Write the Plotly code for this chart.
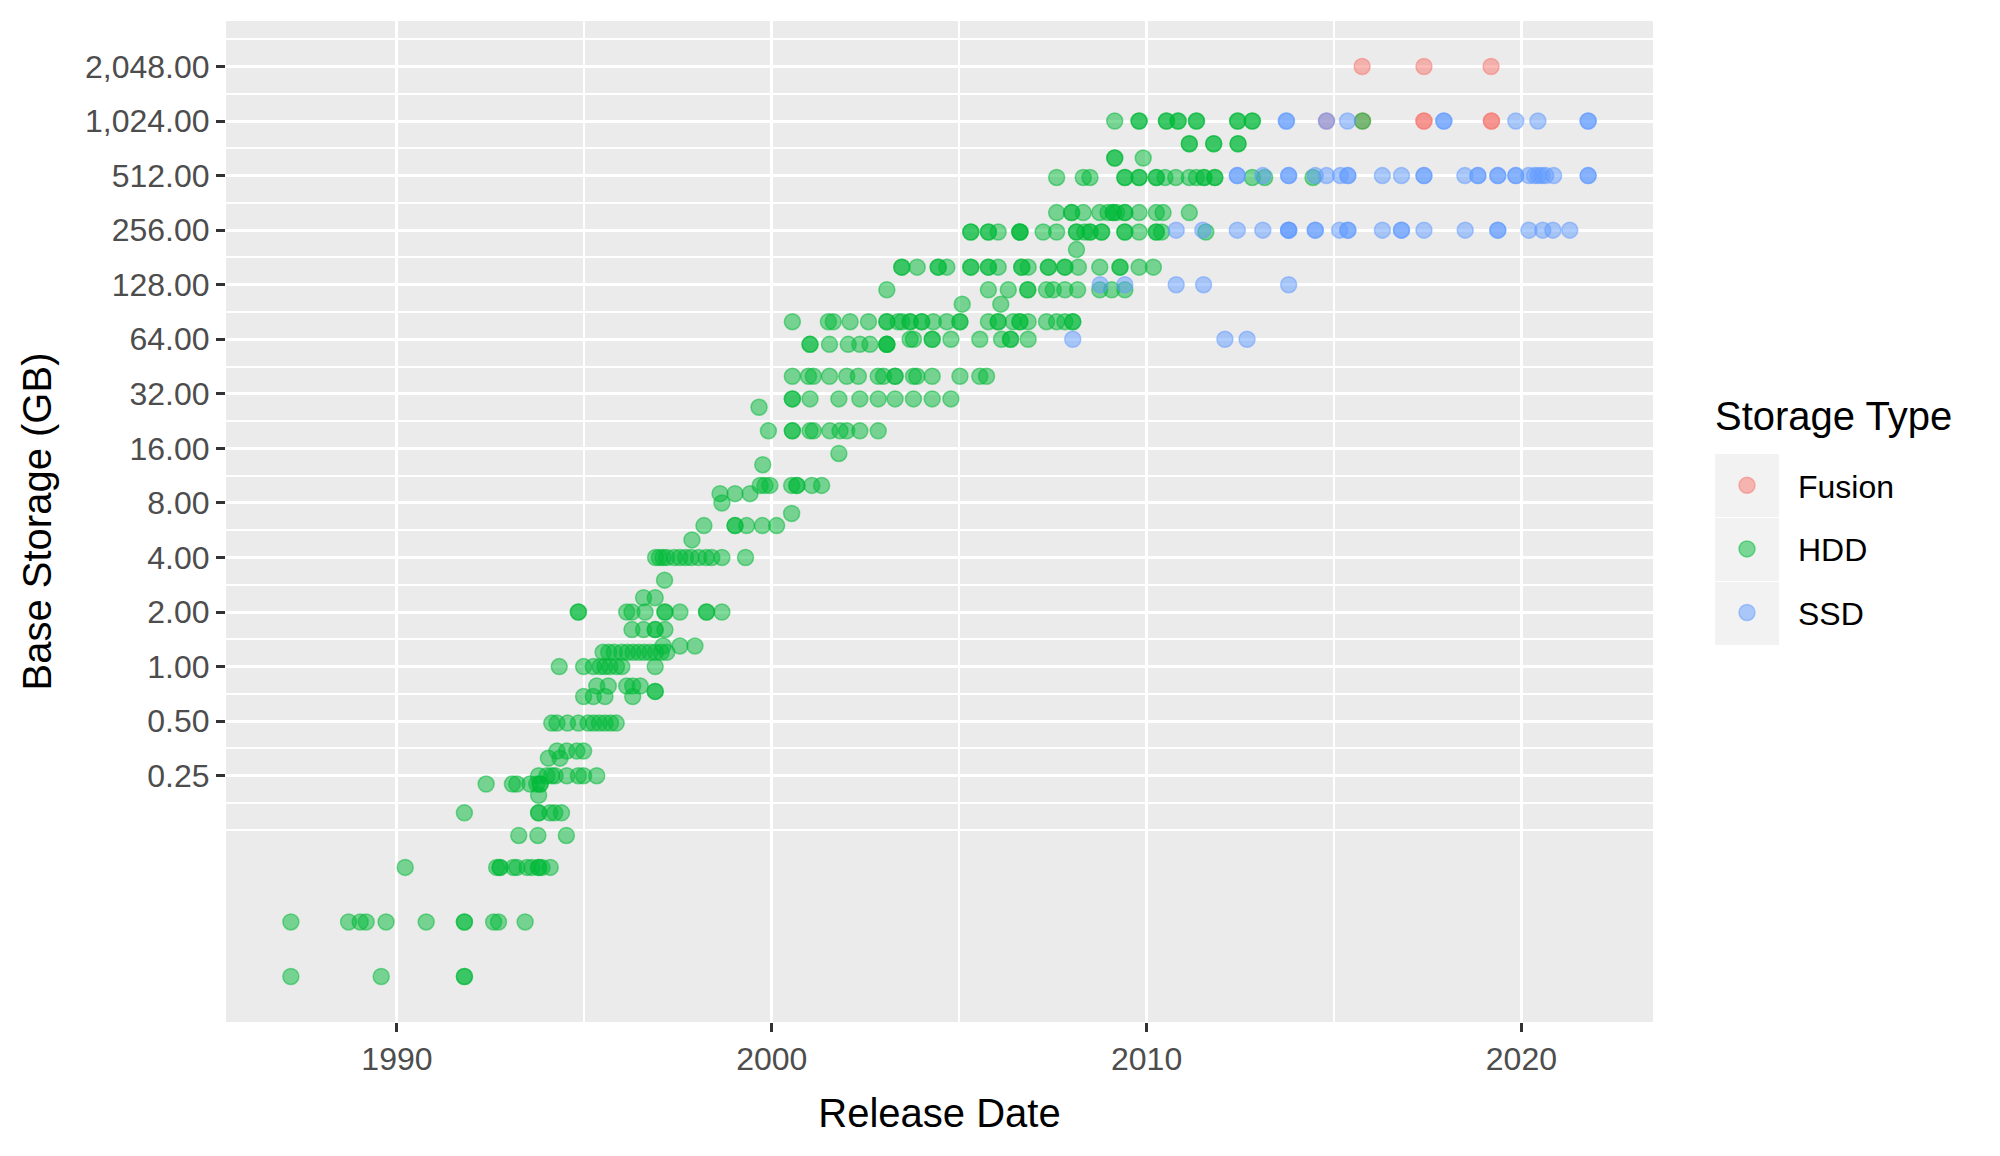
import math
import plotly.graph_objects as go

# storage capacities (GB) and the release dates (decimal years) seen at each one
hdd_gb = [0.0195, 0.039, 0.078, 0.117, 0.156, 0.195, 0.225, 0.25, 0.3125, 0.342,
          0.488, 0.684, 0.73, 0.781, 1.0, 1.2, 1.3, 1.6, 2.0, 2.4,
          3.0, 4.0, 5.0, 6.0, 7.0, 8.0, 9.0, 10, 13, 15,
          20, 27, 30, 40, 60, 64, 80, 100, 120, 160,
          200, 250, 320, 500, 640, 768, 1024]
hdd_years = [
    [1987.17, 1989.58, 1991.80, 1991.80],
    [1987.17, 1988.71, 1989.02, 1989.18, 1989.71, 1990.78, 1991.80, 1991.80, 1992.58, 1992.71, 1993.42],
    [1990.22, 1992.66, 1992.75, 1992.75, 1993.11, 1993.20, 1993.47, 1993.60, 1993.78, 1993.78, 1993.87, 1994.09],
    [1993.25, 1993.76, 1994.52],
    [1991.80, 1993.78, 1993.78, 1994.08, 1994.21, 1994.39],
    [1993.78],
    [1992.38, 1993.08, 1993.20, 1993.55, 1993.73, 1993.82, 1993.82],
    [1993.78, 1994.00, 1994.13, 1994.22, 1994.53, 1994.84, 1994.98, 1995.33],
    [1994.04, 1994.35],
    [1994.27, 1994.53, 1994.80, 1994.98],
    [1994.13, 1994.27, 1994.55, 1994.84, 1995.10, 1995.25, 1995.40, 1995.55, 1995.70, 1995.85],
    [1994.98, 1995.24, 1995.55, 1996.29],
    [1996.89, 1996.89],
    [1995.33, 1995.64, 1996.13, 1996.29, 1996.49],
    [1994.33, 1994.98, 1995.24, 1995.42, 1995.55, 1995.68, 1995.86, 1996.00, 1996.89],
    [1995.50, 1995.65, 1995.80, 1996.00, 1996.15, 1996.30, 1996.45, 1996.60, 1996.75, 1996.90, 1997.05, 1997.20],
    [1997.10, 1997.55, 1997.95],
    [1996.27, 1996.58, 1996.89, 1996.89, 1997.15],
    [1994.84, 1994.84, 1996.13, 1996.27, 1996.62, 1997.15, 1997.15, 1997.55, 1998.26, 1998.26, 1998.67],
    [1996.58, 1996.89],
    [1997.14],
    [1996.90, 1997.00, 1997.10, 1997.20, 1997.40, 1997.55, 1997.70, 1997.85, 1998.05, 1998.25, 1998.40, 1998.67, 1999.30],
    [1997.87],
    [1998.19, 1999.02, 1999.02, 1999.33, 1999.75, 2000.13],
    [2000.53],
    [1998.67],
    [1998.62, 1999.02, 1999.42],
    [1999.69, 1999.82, 1999.95, 2000.53, 2000.67, 2000.67, 2001.07, 2001.33],
    [1999.76],
    [2001.79],
    [1999.91, 2000.55, 2000.55, 2001.02, 2001.11, 2001.55, 2001.82, 2002.00, 2002.35, 2002.84],
    [1999.66],
    [2000.55, 2000.55, 2001.02, 2001.79, 2002.35, 2002.84, 2003.29, 2003.78, 2004.28, 2004.78],
    [2000.55, 2000.98, 2001.11, 2001.54, 2002.00, 2002.31, 2002.84, 2002.98, 2003.29, 2003.29,
     2003.78, 2003.87, 2004.28, 2005.02, 2005.55, 2005.73],
    [2001.02, 2001.02, 2001.54, 2002.04, 2002.35, 2002.62, 2003.07, 2003.07, 2003.07],
    [2003.69, 2003.78, 2004.28, 2004.28, 2004.78, 2005.55, 2006.13, 2006.37, 2006.37, 2006.84],
    [2000.55, 2001.51, 2001.64, 2002.09, 2002.58, 2003.07, 2003.07, 2003.37, 2003.47, 2003.69,
     2003.69, 2004.00, 2004.00, 2004.31, 2004.67, 2005.02, 2005.02, 2005.78, 2006.04, 2006.04,
     2006.44, 2006.62, 2006.62, 2006.84, 2007.33, 2007.60, 2007.82, 2008.03, 2008.03],
    [2005.08, 2006.11],
    [2003.07, 2005.78, 2006.31, 2006.83, 2006.83, 2007.33, 2007.51, 2007.82, 2008.16, 2008.75, 2009.07, 2009.42],
    [2003.47, 2003.47, 2003.88, 2004.44, 2004.44, 2004.67, 2005.31, 2005.31, 2005.78, 2005.78,
     2006.04, 2006.67, 2006.67, 2006.84, 2007.38, 2007.38, 2007.82, 2007.82, 2008.18, 2008.75,
     2009.29, 2009.29, 2009.80, 2010.18],
    [2008.13],
    [2005.31, 2005.31, 2005.78, 2005.78, 2006.04, 2006.62, 2006.62, 2006.62, 2007.24, 2007.60,
     2008.13, 2008.13, 2008.35, 2008.49, 2008.49, 2008.80, 2008.80, 2009.42, 2009.42, 2009.80,
     2010.26, 2010.26, 2010.40, 2011.58],
    [2007.60, 2008.00, 2008.00, 2008.31, 2008.75, 2008.97, 2009.11, 2009.11, 2009.20, 2009.42,
     2009.42, 2009.80, 2010.26, 2010.44, 2011.14],
    [2007.60, 2008.31, 2008.49, 2009.42, 2009.42, 2009.80, 2009.80, 2010.26, 2010.26, 2010.49,
     2010.78, 2011.14, 2011.33, 2011.53, 2011.53, 2011.82, 2011.82, 2012.82, 2013.15, 2014.44],
    [2009.15, 2009.15, 2009.91],
    [2011.14, 2011.14, 2011.79, 2011.79, 2012.44, 2012.44],
    [2009.15, 2009.80, 2009.80, 2010.53, 2010.53, 2010.84, 2010.84, 2011.33, 2011.33, 2012.43,
     2012.43, 2012.82, 2012.82, 2015.76],
]

ssd_gb = [64, 128, 256, 512, 1024]
ssd_years = [
    [2008.03, 2012.09, 2012.68],
    [2008.76, 2009.42, 2010.79, 2011.52, 2013.79],
    [2010.79, 2011.50, 2012.42, 2013.10, 2013.79, 2013.79, 2013.79, 2014.50, 2014.50, 2015.15,
     2015.37, 2015.37, 2016.29, 2016.80, 2016.80, 2017.40, 2018.50, 2019.37, 2019.37, 2020.20,
     2020.57, 2020.84, 2021.29],
    [2012.42, 2012.42, 2013.10, 2013.79, 2013.79, 2014.50, 2014.80, 2015.17, 2015.37, 2015.37,
     2016.29, 2016.80, 2017.40, 2017.40, 2018.49, 2018.84, 2018.84, 2019.37, 2019.37, 2019.85,
     2019.85, 2020.20, 2020.35, 2020.45, 2020.55, 2020.65, 2020.86, 2021.78, 2021.78],
    [2013.73, 2013.73, 2014.80, 2015.36, 2017.93, 2017.93, 2019.85, 2020.44, 2021.78, 2021.78],
]

fusion_gb = [1024, 2048]
fusion_years = [
    [2014.80, 2015.76, 2017.40, 2017.40, 2019.20, 2019.20],
    [2015.75, 2017.40, 2019.19],
]

y_ticks = [0.25, 0.5, 1, 2, 4, 8, 16, 32, 64, 128, 256, 512, 1024, 2048]
y_labels = ["0.25", "0.50", "1.00", "2.00", "4.00", "8.00", "16.00", "32.00", "64.00",
            "128.00", "256.00", "512.00", "1,024.00", "2,048.00"]
x_ticks = [1990, 2000, 2010, 2020]

# page pixel geometry (the html body adds an 8px margin, so the figure is shrunk by that)
W, H, OFF = 2000, 1156, 8
PLOT_L, PLOT_R, PLOT_T, PLOT_B = 226, 1653, 21, 1022


def flatten(caps, years):
    xs, ys = [], []
    for cap, row in zip(caps, years):
        for yr in row:
            xs.append(yr)
            ys.append(cap)
    return xs, ys


def px_x(x):
    return (x - PLOT_L) / (PLOT_R - PLOT_L)


def px_y(y):
    return (PLOT_B - y) / (PLOT_B - PLOT_T)


series = [
    ("Fusion", fusion_gb, fusion_years, (248, 118, 109)),
    ("HDD", hdd_gb, hdd_years, (0, 186, 56)),
    ("SSD", ssd_gb, ssd_years, (97, 156, 255)),
]

fig = go.Figure()
all_x, all_y = [], []
for name, caps, years, rgb in series:
    xs, ys = flatten(caps, years)
    all_x += xs
    all_y += ys
    col = "rgba(%d,%d,%d,0.5)" % rgb
    fig.add_trace(go.Scatter(
        x=xs, y=ys, mode="markers", name=name, legendgroup=name,
        marker=dict(size=16, color=col, line=dict(width=1.5, color=col)),
    ))

# ggplot-like 5% expansion of the data range
x0, x1 = min(all_x), max(all_x)
xpad = 0.05 * (x1 - x0)
ly0, ly1 = math.log10(min(all_y)), math.log10(max(all_y))
ypad = 0.05 * (ly1 - ly0)

minor_y = [2 ** -3] + [2 ** (k + 0.5) for k in range(-3, 12)]

font = "Liberation Sans, Arial, Helvetica, sans-serif"

fig.update_layout(
    width=W - OFF, height=H - OFF,
    margin=dict(l=PLOT_L - OFF, r=W - PLOT_R, t=PLOT_T - OFF, b=H - PLOT_B),
    paper_bgcolor="white", plot_bgcolor="#EBEBEB",
    font=dict(family=font, color="black"),
    xaxis=dict(
        range=[x0 - xpad, x1 + xpad],
        tickmode="array", tickvals=x_ticks, ticktext=[str(v) for v in x_ticks],
        showgrid=True, gridcolor="white", gridwidth=3,
        minor=dict(tickmode="array", tickvals=[1985, 1995, 2005, 2015], showgrid=True,
                   gridcolor="white", gridwidth=1.5, ticks=""),
        ticks="outside", ticklen=9, tickwidth=3, tickcolor="#333333",
        tickfont=dict(size=32, color="#4D4D4D"),
        zeroline=False, showline=False,
        title=dict(text="Release Date", font=dict(size=40, color="black"), standoff=22),
    ),
    yaxis=dict(
        type="log", range=[ly0 - ypad, ly1 + ypad],
        tickmode="array", tickvals=y_ticks, ticktext=y_labels,
        showgrid=True, gridcolor="white", gridwidth=3,
        minor=dict(tickmode="array", tickvals=minor_y, showgrid=True,
                   gridcolor="white", gridwidth=1.5, ticks=""),
        ticks="outside", ticklen=9, tickwidth=3, tickcolor="#333333",
        tickfont=dict(size=32, color="#4D4D4D"),
        zeroline=False, showline=False,
        title=dict(text="Base Storage (GB)", font=dict(size=40, color="black"), standoff=21),
    ),
    legend=dict(
        x=px_x(1696), y=px_y(458), xanchor="left", yanchor="top",
        bgcolor="rgba(0,0,0,0)", borderwidth=0,
        font=dict(size=32, color="black"),
        tracegroupgap=19, itemsizing="trace", itemwidth=92,
    ),
    showlegend=True,
)

fig.add_annotation(text="Storage Type", xref="paper", yref="paper",
                   x=px_x(1713), y=px_y(416), xanchor="left", yanchor="middle",
                   showarrow=False, font=dict(size=40, color="black"))

# grey key boxes behind the legend symbols
for top in [454, 518, 582]:
    fig.add_shape(type="rect", xref="paper", yref="paper", layer="below",
                  x0=px_x(1715), x1=px_x(1779), y0=px_y(top + 63), y1=px_y(top),
                  fillcolor="#F2F2F2", line=dict(width=0))

fig.write_html("out.html")
